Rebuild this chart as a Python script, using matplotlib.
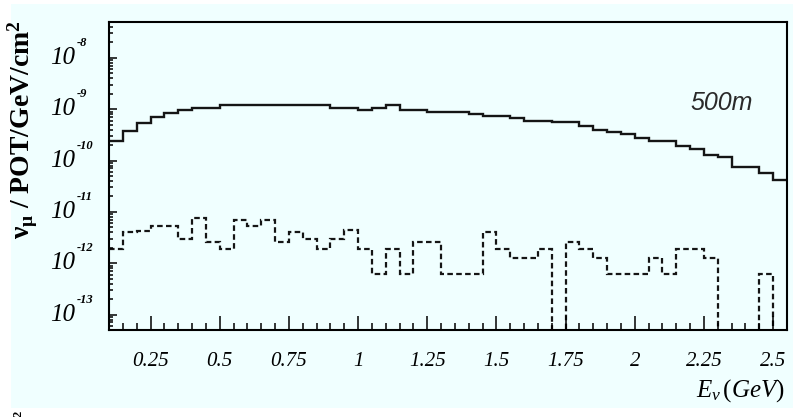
import numpy as np
import matplotlib
matplotlib.use("Agg")
import matplotlib.pyplot as plt
import matplotlib.transforms as mtransforms
from matplotlib.ticker import MultipleLocator, LogLocator, NullFormatter
from matplotlib.patches import Rectangle

plt.rcParams["mathtext.fontset"] = "custom"
plt.rcParams["mathtext.rm"] = "Liberation Serif"
plt.rcParams["mathtext.it"] = "Liberation Serif:italic"
plt.rcParams["mathtext.bf"] = "Liberation Serif:bold"
plt.rcParams["lines.scale_dashes"] = False

# Energy binning (GeV)
bin_low = 0.10
bin_width = 0.05
n_bins = 49

# nu_mu flux per POT/GeV/cm^2 at 500 m (solid)
flux_main = [
    2.4e-10, 3.7e-10, 5.3e-10, 6.9e-10, 8.3e-10, 9.7e-10, 1.06e-9, 1.06e-9,
    1.2e-9, 1.2e-9, 1.2e-9, 1.2e-9, 1.2e-9, 1.2e-9, 1.2e-9, 1.2e-9,
    1.06e-9, 1.06e-9, 0.97e-9, 1.06e-9, 1.2e-9, 0.97e-9, 0.97e-9,
    0.89e-9, 0.89e-9, 0.89e-9, 8.2e-10, 7.4e-10, 7.4e-10, 6.6e-10,
    6.0e-10, 6.0e-10, 5.6e-10, 5.6e-10, 4.7e-10, 3.9e-10, 3.6e-10,
    3.3e-10, 2.8e-10, 2.35e-10, 2.35e-10, 1.96e-10, 1.65e-10, 1.26e-10,
    1.15e-10, 7.4e-11, 7.4e-11, 5.7e-11, 4.1e-11,
]

# second component (dashed)
flux_minor = [
    1.9e-12, 4.0e-12, 4.3e-12, 5.4e-12, 5.4e-12, 3.0e-12, 7.6e-12, 2.6e-12,
    1.9e-12, 6.9e-12, 5.4e-12, 6.9e-12, 2.6e-12, 4.0e-12, 3.0e-12, 1.9e-12,
    3.0e-12, 4.4e-12, 1.9e-12, 6.3e-13, 1.9e-12, 6.3e-13, 2.6e-12, 2.6e-12,
    6.3e-13, 6.3e-13, 6.3e-13, 4.0e-12, 1.9e-12, 1.26e-12, 1.26e-12, 1.9e-12,
    0.0, 2.6e-12, 1.9e-12, 1.26e-12, 6.3e-13, 6.3e-13, 6.3e-13, 1.26e-12,
    6.3e-13, 1.9e-12, 1.9e-12, 1.26e-12, 0.0, 0.0, 0.0, 6.3e-13, 0.0,
]

x_ticks = [0.25, 0.5, 0.75, 1.0, 1.25, 1.5, 1.75, 2.0, 2.25, 2.5]
x_tick_labels = ["0.25", "0.5", "0.75", "1", "1.25", "1.5", "1.75", "2", "2.25", "2.5"]
y_decades = [-13, -12, -11, -10, -9, -8]

edges = bin_low + bin_width * np.arange(n_bins + 1)

W, H = 793, 417
fig = plt.figure(figsize=(W / 100, H / 100), dpi=100)
fig.patch.set_facecolor("white")
fig.patches.append(Rectangle((11 / W, 1 - 408 / H), 1 - 11 / W, (408 - 4) / H,
                             transform=fig.transFigure, facecolor="#f0ffff",
                             edgecolor="none", zorder=-10))

ax = fig.add_axes([109 / W, 1 - 330 / H, 678 / W, 308 / H])
ax.set_facecolor("#f0ffff")
ax.set_yscale("log")
ax.set_xlim(edges[0], edges[-1])
ax.set_ylim(5e-14, 5e-8)

ax.stairs(flux_main, edges, baseline=None, color="#151515", linewidth=1.7)
ax.stairs(flux_minor, edges, baseline=None, color="#151515", linewidth=1.6,
          linestyle=(0, (4.0, 2.4)))

for s in ax.spines.values():
    s.set_linewidth(1.5)
    s.set_color("black")

ax.set_xticks(x_ticks)
ax.set_xticklabels(x_tick_labels, fontfamily="Liberation Serif", fontstyle="italic",
                   fontsize=15)
ax.xaxis.set_minor_locator(MultipleLocator(bin_width))
ax.yaxis.set_major_locator(LogLocator(base=10, numticks=20))
ax.yaxis.set_minor_locator(LogLocator(base=10, subs=np.arange(2, 10), numticks=20))
ax.yaxis.set_minor_formatter(NullFormatter())
ax.tick_params(which="both", direction="in", top=False, right=False, width=1.1,
               color="black")
ax.tick_params(axis="x", which="major", length=10, pad=16)
ax.tick_params(axis="x", which="minor", length=5)
ax.tick_params(axis="y", which="major", length=5.5, labelleft=False)
ax.tick_params(axis="y", which="minor", length=3)

# decade labels drawn as "10" with a raised exponent
ytrans = ax.get_yaxis_transform()
exp_trans = mtransforms.offset_copy(ytrans, fig=fig, x=0, y=15, units="dots")
for d in y_decades:
    ax.text(-0.05, 10.0 ** d, "10", transform=ytrans, ha="right", va="center",
            fontfamily="Liberation Serif", fontstyle="italic", fontsize=18,
            clip_on=False)
    ax.text(-0.047, 10.0 ** d, f"-{abs(d)}", transform=exp_trans, ha="left",
            va="center", fontfamily="Liberation Serif", fontstyle="italic",
            fontweight="bold", fontsize=9, clip_on=False)

ax.text(0.857, 0.737, "500m", transform=ax.transAxes, ha="left", va="center",
        fontfamily="Liberation Sans", fontstyle="italic", fontsize=18,
        color="#2a2a2a")

fig.text(785 / W, 1 - 391 / H, r"$E_{\nu}\,(GeV)$", ha="right", va="center",
         fontsize=18)
fig.text(23 / W, 1 - 130 / H, r"$\mathbf{\nu_{\mu}}$ / POT/GeV/cm$^{\mathbf{2}}$",
         rotation=90, ha="center", va="center", fontfamily="Liberation Serif",
         fontweight="bold", fontsize=20)
fig.text(18 / W, 1 - 414 / H, "2", rotation=90, ha="center", va="center",
         fontfamily="Liberation Serif", fontweight="bold", fontsize=9)

fig.savefig("out.png", dpi=100, facecolor=fig.get_facecolor())
